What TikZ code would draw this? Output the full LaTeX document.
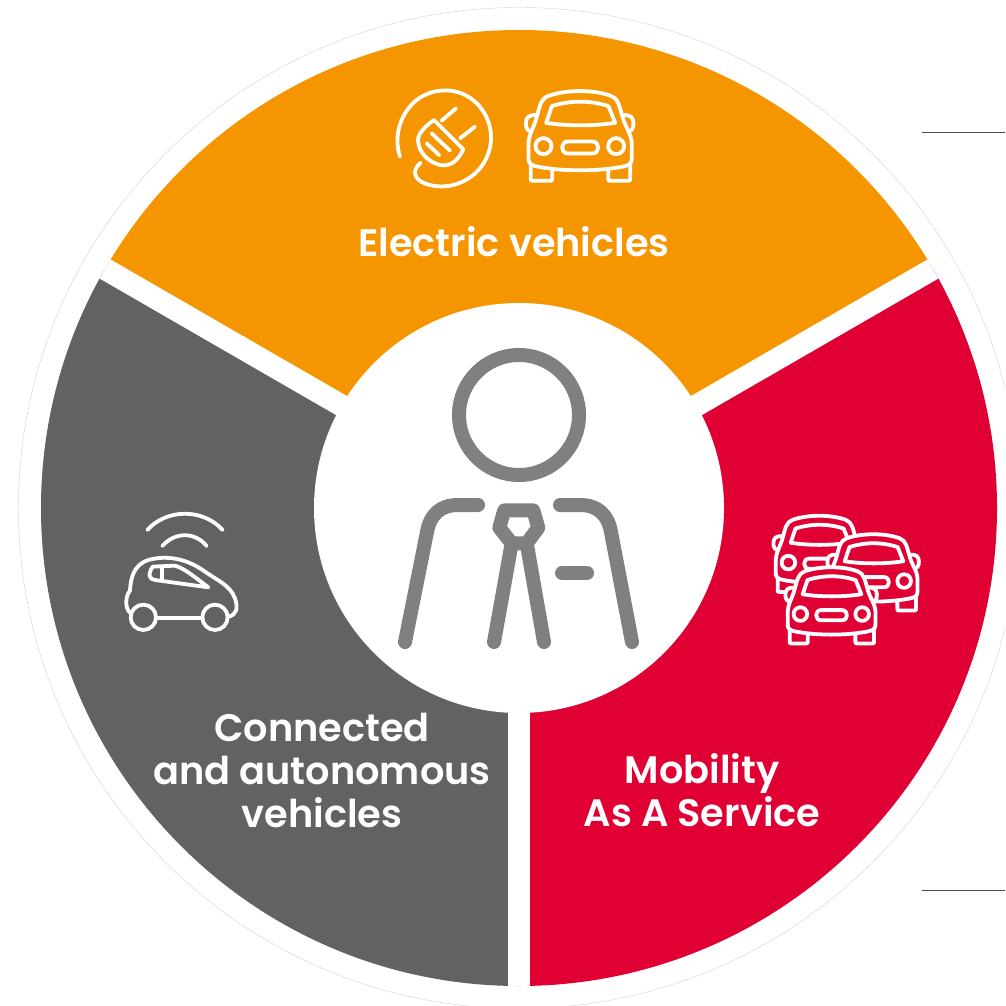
\documentclass[tikz,border=0pt]{standalone}
\usepackage{fontspec}
\setmainfont{Poppins}[BoldFont={Poppins SemiBold}]
\definecolor{evorange}{HTML}{F59600}
\definecolor{maasred}{HTML}{E00034}
\definecolor{cavgray}{HTML}{626262}
\definecolor{persongray}{HTML}{808080}
\tikzset{
  seglabel/.style={text=white,font=\fontsize{38.3}{43}\selectfont\bfseries,align=center,inner sep=0pt},
  iconline/.style={draw=white,line width=3.8pt,line cap=round,line join=round},
  personline/.style={draw=persongray,line width=14pt,line cap=round,line join=round},
  leader/.style={draw=black!70,line width=1pt},
}
% #1 x, #2 y (centre in px), #3 scale, #4 fill colour
\newcommand{\carfront}[4]{%
\begin{scope}[x=#3*0.3333pt,y=-#3*0.3333pt,shift={(#1pt,-#2pt)},shift={(-598,-166)}]
  \path[iconline,fill=#4] (452,250) -- (452,295) .. controls (452,302) .. (460,302) -- (508,302) .. controls (516,302) .. (516,295) -- (516,262);
  \path[iconline,fill=#4] (750,250) -- (750,295) .. controls (750,302) .. (742,302) -- (692,302) .. controls (684,302) .. (684,295) -- (684,262);
  \path[iconline,fill=#4] (470,105) .. controls (445,103) and (438,112) .. (437,128) .. controls (436,148) and (445,155) .. (460,155);
  \path[iconline,fill=#4] (727,105) .. controls (752,103) and (759,112) .. (760,128) .. controls (761,148) and (752,155) .. (737,155);
  \path[iconline,fill=#4] (470,110) .. controls (478,80) and (482,55) .. (505,47) .. controls (560,28) and (640,28) .. (692,47) .. controls (715,55) and (718,80) .. (727,110) .. controls (735,140) and (755,165) .. (755,190) -- (755,235) .. controls (755,252) and (745,256) .. (725,260) .. controls (650,274) and (550,274) .. (475,260) .. controls (455,256) and (445,252) .. (445,235) -- (445,190) .. controls (445,165) and (462,140) .. (470,110) -- cycle;
  \path[iconline] (515,78) .. controls (570,60) and (630,60) .. (685,78) -- (705,128) .. controls (640,138) and (560,138) .. (498,128) -- cycle;
  \path[iconline] (490,198) circle (24);
  \path[iconline] (708,198) circle (24);
  \path[iconline] (563,184) -- (637,184) .. controls (660,184) and (660,220) .. (637,220) -- (563,220) .. controls (540,220) and (540,184) .. (563,184) -- cycle;
\end{scope}}
\begin{document}
\begin{tikzpicture}[x=1pt,y=-1pt]
\useasboundingbox (0,0) rectangle (1005,1006);
\clip (0,0) rectangle (1005,1006);
\coordinate (c) at (519,508);
% thin outer ring
\draw[black!18,line width=0.4pt] (c) circle (500.5);
% leader lines
\coordinate (l1a) at (922,132.5); \coordinate (l1b) at (1005,132.5);
\coordinate (l2a) at (922,890.5); \coordinate (l2b) at (1005,890.5);
\draw[leader] (l1a) -- (l1b);
\draw[leader] (l2a) -- (l2b);
% segments
\begin{scope}
  \clip (c) circle (478);
  \fill[evorange] (c) -- (-347,8) -- (-347,-200) -- (1385,-200) -- (1385,8) -- cycle;
  \fill[maasred] (c) -- (1385,8) -- (1385,1300) -- (519,1300) -- cycle;
  \fill[cavgray] (c) -- (519,1300) -- (-347,1300) -- (-347,8) -- cycle;
  \draw[white,line width=22pt] (c) -- (519,1300);
  \draw[white,line width=22pt] (c) -- (-347,8);
  \draw[white,line width=22pt] (c) -- (1385,8);
\end{scope}
\fill[white] (c) circle (205);
% person
\draw[personline] (c |- 0,415) ++(0,0) circle (60);
\draw[personline] (478,505) -- (458,505) .. controls (440,505) and (430,515) .. (427,532) -- (405,642);
\draw[personline] (560,505) -- (580,505) .. controls (598,505) and (608,515) .. (611,532) -- (632,642);
\draw[personline] (562,573) -- (587,573);
\draw[personline] (504.3,510.3) -- (533.3,510.3) -- (538.3,527.7) -- (526.7,543.3) -- (511.7,543.3) -- (499.3,527.7) -- cycle;
\draw[personline] (511.7,543.3) -- (494,642);
\draw[personline] (526.7,543.3) -- (544,642);
% plug icon
\begin{scope}[x=0.3333pt,y=-0.3333pt,shift={(380pt,-80pt)}]
  \path[iconline] (60,230) .. controls (40,170) and (60,100) .. (110,60) .. controls (170,15) and (250,25) .. (295,75) .. controls (345,130) and (345,210) .. (300,265) .. controls (260,312) and (200,328) .. (150,315) .. controls (105,305) and (90,275) .. (122,248);
  \path[iconline] (162,120) -- (250,208) .. controls (235,240) and (215,258) .. (185,256) .. controls (150,250) and (115,220) .. (114,180) .. controls (114,160) and (140,135) .. (162,120) -- cycle;
  \path[iconline] (185,122) -- (228,85);
  \path[iconline] (240,175) -- (285,140);
  \path[iconline] (155,160) -- (210,212);
  \path[iconline] (140,190) -- (178,226);
\end{scope}
\carfront{579.5}{135.5}{1}{evorange}
% traffic icon
\carfront{819}{553.5}{0.85}{maasred}
\carfront{873}{572}{0.85}{maasred}
\carfront{831}{605}{0.85}{maasred}
% connected car icon
\begin{scope}[x=0.3333pt,y=-0.3333pt,shift={(110pt,-500pt)}]
  \path[iconline] (112,90) .. controls (170,25) and (280,25) .. (338,90);
  \path[iconline] (157,138) .. controls (195,95) and (255,95) .. (290,138);
  \path[iconline] (138,353) -- (277,353);
  \path[iconline] (100,352) circle (38);
  \path[iconline] (315,352) circle (38);
  \path[iconline] (60,338) .. controls (45,325) and (45,290) .. (60,272) .. controls (62,235) and (70,195) .. (115,180) .. controls (170,165) and (230,175) .. (285,215) .. controls (320,240) and (360,255) .. (375,295) .. controls (385,325) and (380,345) .. (355,350);
  \path[iconline] (128,200) -- (195,197) .. controls (225,205) and (265,240) .. (295,262) -- (135,240) .. controls (118,238) and (112,225) .. (128,200) -- cycle;
  \path[iconline] (155,200) -- (155,240);
\end{scope}
% labels
\node[seglabel] (ev) at (514,242) {Electric vehicles};
\node[seglabel] (cav) at (322,770) {Connected\\and autonomous\\vehicles};
\node[seglabel] (maas) at (702,790.5) {Mobility\\As A Service};
\end{tikzpicture}
\end{document}
